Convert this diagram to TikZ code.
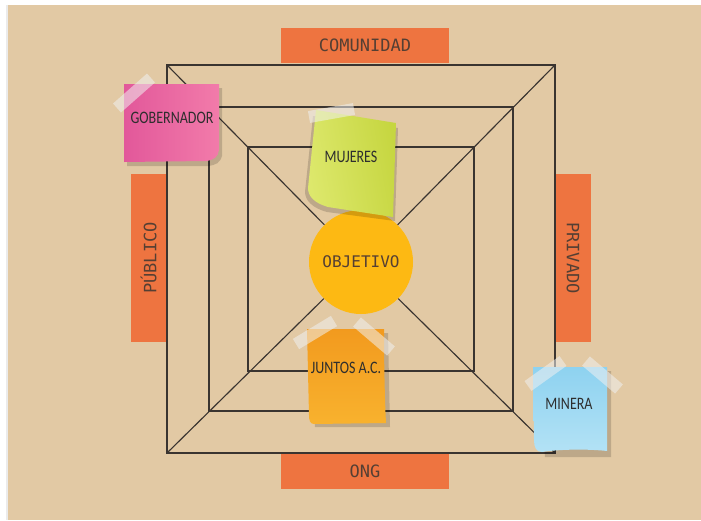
\documentclass[tikz,border=0pt]{standalone}
\usepackage{fontspec}
\newfontfamily\labfont{DejaVu Sans Mono}
\newfontfamily\notefont[FakeStretch=0.8]{Carlito}
\definecolor{bg}{HTML}{E2C9A4}
\definecolor{lbl}{HTML}{EE7440}
\definecolor{ink}{HTML}{553F33}
\definecolor{lin}{HTML}{3A3430}
\definecolor{gold}{HTML}{FDB913}
\definecolor{pinkA}{HTML}{E2589A}
\definecolor{pinkB}{HTML}{F27BAA}
\definecolor{limeA}{HTML}{C6D640}
\definecolor{limeB}{HTML}{DDE86C}
\definecolor{oranA}{HTML}{F29A1E}
\definecolor{oranB}{HTML}{F8B22E}
\definecolor{blueA}{HTML}{8ED2F0}
\definecolor{blueB}{HTML}{B3E2F5}
\tikzset{
  frame/.style={draw=lin, line width=1.15pt},
  labbox/.style={fill=lbl, text=ink, font=\labfont\fontsize{17}{17}\selectfont, inner sep=0pt},
  notetext/.style={text=black!82, font=\notefont\fontsize{17.5}{17.5}\selectfont, inner sep=0pt},
  tape/.style={white!88!gray, opacity=0.55, line width=12pt},
  nshadow/.style={fill=black, opacity=0.16}
}
\begin{document}
\begin{tikzpicture}[x=1pt,y=-1pt]
\useasboundingbox (0,0) rectangle (701,520);
\fill[white] (0,0) rectangle (701,520);
\fill[black!8] (6,5) rectangle (9,520);
\fill[bg] (8,5) rectangle (701,520);

% squares
\coordinate (o1) at (167,65); \coordinate (o2) at (555,65);
\coordinate (o3) at (555,453); \coordinate (o4) at (167,453);
\coordinate (m1) at (209,107); \coordinate (m2) at (513,107);
\coordinate (m3) at (513,411); \coordinate (m4) at (209,411);
\coordinate (i1) at (248,147); \coordinate (i2) at (474,147);
\coordinate (i3) at (474,371); \coordinate (i4) at (248,371);
\draw[frame] (o1) -- (o2) -- (o3) -- (o4) -- cycle;
\draw[frame] (m1) -- (m2) -- (m3) -- (m4) -- cycle;
\draw[frame] (i1) -- (i2) -- (i3) -- (i4) -- cycle;

\node[circle, fill=gold, minimum size=104pt, inner sep=0pt, text=ink,
      font=\labfont\fontsize{16}{16}\selectfont] (obj) at (361,262) {OBJETIVO};
\draw[frame] (o1) -- (obj);
\draw[frame] (o2) -- (obj);
\draw[frame] (o3) -- (obj);
\draw[frame] (o4) -- (obj);

% side labels
\node[labbox, minimum width=168pt, minimum height=35pt] (com) at (365,45.5) {COMUNIDAD};
\node[labbox, minimum width=168pt, minimum height=35pt] (ong) at (365,471) {ONG};
\node[labbox, minimum width=168pt, minimum height=35pt, rotate=90] (pub) at (148.5,258) {PÚBLICO};
\node[labbox, minimum width=168pt, minimum height=35pt, rotate=-90] (pri) at (573,258) {PRIVADO};

% GOBERNADOR note
\fill[nshadow] (127,88) -- (222,88) -- (222,156) .. controls (220,163) and (216,165) .. (208,166) -- (127,166) -- cycle;
\shade[left color=pinkA, right color=pinkB] (124,84) -- (219,84) -- (219,150) .. controls (218,157) and (214,160) .. (206,161) -- (124,162) -- cycle;
\draw[tape] (117,108) -- (151,78);
\node[notetext] (gob) at (172,118) {GOBERNADOR};

% MUJERES note
\fill[nshadow] (313,116) -- (398,128) -- (395,221) -- (327,212) .. controls (312,208) and (305,200) .. (305,192) -- cycle;
\shade[left color=limeA, right color=limeB, shading angle=-80] (316,110) -- (396,123) -- (393,217) -- (328,207) .. controls (314,203) and (308,196) .. (308,188) -- cycle;
\draw[tape] (309,117) -- (354,109);
\node[notetext] (muj) at (351,157) {MUJERES};

% JUNTOS A.C. note
\fill[nshadow] (310,333) -- (388,333) -- (390,427) -- (315,427) -- cycle;
\shade[top color=oranA, bottom color=oranB] (307,329) -- (384,329) .. controls (384,370) and (385,405) .. (386,423) -- (314,424) .. controls (310,424) and (309,420) .. (309,415) -- cycle;
\draw[tape] (296,344) -- (334,321);
\draw[tape] (357,322) -- (391,351);
\node[notetext] (jun) at (346,368) {JUNTOS A.C.};

% MINERA note
\fill[nshadow] (537,371) -- (611,371) -- (611,457) -- (545,457) -- cycle;
\shade[top color=blueA, bottom color=blueB] (533,367) -- (607,367) -- (607,451) .. controls (590,449) and (560,449) .. (542,452) .. controls (536,452) and (534,447) .. (534,440) -- cycle;
\draw[tape] (528,386) -- (563,361);
\draw[tape] (586,361) -- (619,389);
\node[notetext] (min) at (569,404) {MINERA};
\end{tikzpicture}
\end{document}
